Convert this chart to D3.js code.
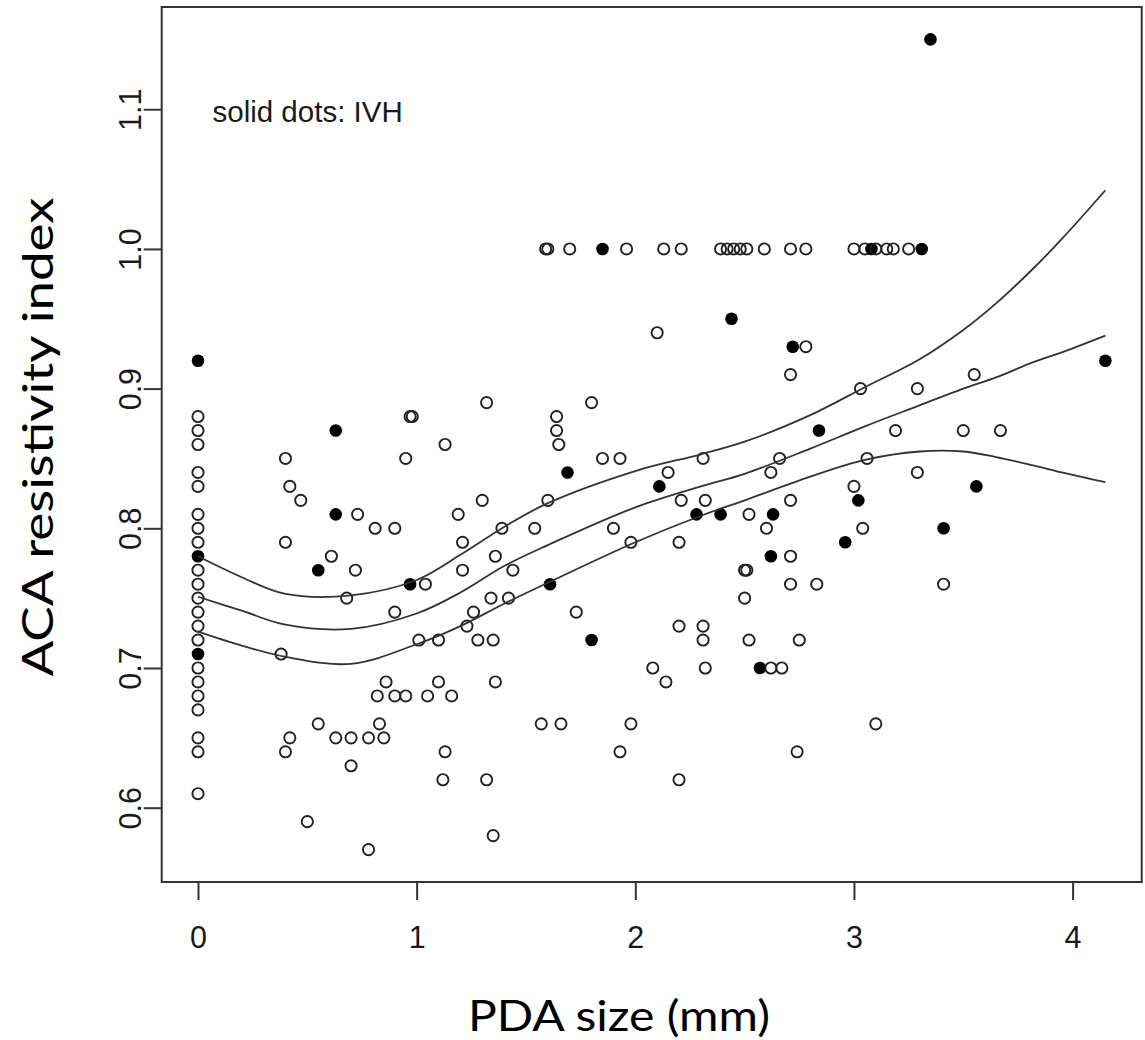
<!DOCTYPE html>
<html>
<head>
<meta charset="utf-8">
<script src="https://cdn.jsdelivr.net/npm/d3@7"></script>
<style>
  body { margin: 0; background: #fff; }
  svg { display: block; }
</style>
</head>
<body>
<div id="chart"></div>
<script>
// PDA size (mm), ACA resistivity index, IVH flag (1 = solid dot)
const pdaSize = [
  0, 0, 0, 0, 0, 0, 0, 0, 0, 0, 0, 0, 0, 0, 0, 0, 0, 0, 0, 0, 0, 0, 0, 0,
  0.38, 0.40, 0.40, 0.40, 0.42, 0.42, 0.47, 0.50, 0.55, 0.55,
  0.61, 0.63, 0.63, 0.63, 0.68, 0.70, 0.70, 0.72, 0.73, 0.78,
  0.78, 0.81, 0.82, 0.83, 0.85, 0.86, 0.90, 0.90, 0.90, 0.95,
  0.95, 0.97, 0.98, 0.97, 1.01, 1.04, 1.05, 1.10, 1.10, 1.12,
  1.13, 1.13, 1.16, 1.19, 1.21, 1.21, 1.23, 1.26, 1.28, 1.30,
  1.32, 1.32, 1.34, 1.35, 1.35, 1.36, 1.36, 1.39, 1.42, 1.44,
  1.54, 1.57, 1.59, 1.60, 1.60, 1.61, 1.64, 1.64, 1.65, 1.66,
  1.69, 1.70, 1.73, 1.80, 1.80, 1.85, 1.85, 1.90, 1.93, 1.93,
  1.96, 1.98, 1.98, 2.08, 2.10, 2.11, 2.13, 2.14, 2.15, 2.20,
  2.20, 2.20, 2.21, 2.21, 2.28, 2.31, 2.31, 2.31, 2.32, 2.32,
  2.39, 2.39, 2.42, 2.44, 2.45, 2.48, 2.50, 2.50, 2.51, 2.51,
  2.52, 2.52, 2.57, 2.59, 2.60, 2.62, 2.62, 2.62, 2.63, 2.66,
  2.67, 2.71, 2.71, 2.71, 2.71, 2.71, 2.72, 2.74, 2.75, 2.78,
  2.78, 2.83, 2.84, 2.96, 3.00, 3.00, 3.02, 3.03, 3.04, 3.05,
  3.06, 3.08, 3.10, 3.10, 3.15, 3.18, 3.19, 3.25, 3.29, 3.29,
  3.31, 3.35, 3.41, 3.41, 3.50, 3.55, 3.56, 3.67, 4.15
];
const resistIndex = [
  0.92, 0.88, 0.87, 0.86, 0.84, 0.83, 0.81, 0.80, 0.79, 0.78, 0.77, 0.76,
  0.75, 0.74, 0.73, 0.72, 0.71, 0.70, 0.69, 0.68, 0.67, 0.65, 0.64, 0.61,
  0.71, 0.85, 0.79, 0.64, 0.83, 0.65, 0.82, 0.59, 0.77, 0.66,
  0.78, 0.87, 0.81, 0.65, 0.75, 0.65, 0.63, 0.77, 0.81, 0.65,
  0.57, 0.80, 0.68, 0.66, 0.65, 0.69, 0.80, 0.74, 0.68, 0.85,
  0.68, 0.88, 0.88, 0.76, 0.72, 0.76, 0.68, 0.72, 0.69, 0.62,
  0.86, 0.64, 0.68, 0.81, 0.79, 0.77, 0.73, 0.74, 0.72, 0.82,
  0.89, 0.62, 0.75, 0.72, 0.58, 0.78, 0.69, 0.80, 0.75, 0.77,
  0.80, 0.66, 1.00, 1.00, 0.82, 0.76, 0.88, 0.87, 0.86, 0.66,
  0.84, 1.00, 0.74, 0.89, 0.72, 1.00, 0.85, 0.80, 0.85, 0.64,
  1.00, 0.79, 0.66, 0.70, 0.94, 0.83, 1.00, 0.69, 0.84, 0.79,
  0.73, 0.62, 1.00, 0.82, 0.81, 0.85, 0.72, 0.73, 0.82, 0.70,
  1.00, 0.81, 1.00, 0.95, 1.00, 1.00, 0.77, 0.75, 1.00, 0.77,
  0.81, 0.72, 0.70, 1.00, 0.80, 0.84, 0.78, 0.70, 0.81, 0.85,
  0.70, 1.00, 0.91, 0.82, 0.78, 0.76, 0.93, 0.64, 0.72, 1.00,
  0.93, 0.76, 0.87, 0.79, 1.00, 0.83, 0.82, 0.90, 0.80, 1.00,
  0.85, 1.00, 1.00, 0.66, 1.00, 1.00, 0.87, 1.00, 0.90, 0.84,
  1.00, 1.15, 0.80, 0.76, 0.87, 0.91, 0.83, 0.87, 0.92
];
const ivhFlag = [
  1, 0, 0, 0, 0, 0, 0, 0, 0, 1, 0, 0, 0, 0, 0, 0, 1, 0, 0, 0, 0, 0, 0, 0,
  0, 0, 0, 0, 0, 0, 0, 0, 1, 0,
  0, 1, 1, 0, 0, 0, 0, 0, 0, 0,
  0, 0, 0, 0, 0, 0, 0, 0, 0, 0,
  0, 0, 0, 1, 0, 0, 0, 0, 0, 0,
  0, 0, 0, 0, 0, 0, 0, 0, 0, 0,
  0, 0, 0, 0, 0, 0, 0, 0, 0, 0,
  0, 0, 0, 0, 0, 1, 0, 0, 0, 0,
  1, 0, 0, 0, 1, 1, 0, 0, 0, 0,
  0, 0, 0, 0, 0, 1, 0, 0, 0, 0,
  0, 0, 0, 0, 1, 0, 0, 0, 0, 0,
  0, 1, 0, 1, 0, 0, 0, 0, 0, 0,
  0, 0, 1, 0, 0, 0, 1, 0, 1, 0,
  0, 0, 0, 0, 0, 0, 1, 0, 0, 0,
  0, 0, 1, 1, 0, 0, 1, 0, 0, 0,
  0, 1, 0, 0, 0, 0, 0, 0, 0, 0,
  1, 1, 1, 0, 0, 0, 1, 0, 1
];

// fitted curve and its confidence band
const curveX = [0, 0.2, 0.4, 0.7, 1.0, 1.2, 1.4, 1.6, 2.0, 2.3, 2.5, 2.8, 3.05, 3.3, 3.5, 3.65, 3.82, 3.95, 4.15];
const fitY   = [0.751, 0.741, 0.731, 0.728, 0.739, 0.754, 0.773, 0.788, 0.815, 0.830, 0.839, 0.857, 0.873, 0.888, 0.900, 0.908, 0.919, 0.926, 0.938];
const upperY = [0.780, 0.765, 0.753, 0.752, 0.763, 0.781, 0.801, 0.818, 0.841, 0.853, 0.862, 0.881, 0.901, 0.921, 0.942, 0.961, 0.986, 1.007, 1.042];
const lowerY = [0.726, 0.716, 0.708, 0.703, 0.717, 0.730, 0.746, 0.761, 0.790, 0.809, 0.820, 0.837, 0.849, 0.855, 0.855, 0.851, 0.845, 0.840, 0.833];

const xTicks = [0, 1, 2, 3, 4];
const yTicks = [0.6, 0.7, 0.8, 0.9, 1.0, 1.1];

const width = 1145;
const height = 1040;
const box = { left: 161.7, right: 1141.7, top: 7, bottom: 882 };

const svg = d3.select('#chart').append('svg')
  .attr('width', width)
  .attr('height', height);

svg.append('rect').attr('width', width).attr('height', height).attr('fill', '#fff');

const xScale = d3.scaleLinear().domain([-0.166, 4.316]).range([box.left, box.right]);
const yScale = d3.scaleLinear().domain([0.5468, 1.1732]).range([box.bottom, box.top]);

const tickFont = '"Liberation Sans", Arial, sans-serif';

// x axis
const xAxis = svg.append('g')
  .attr('transform', `translate(0, ${box.bottom})`)
  .call(d3.axisBottom(xScale).tickValues(xTicks).tickFormat(d3.format('d')).tickSize(18).tickPadding(26));
xAxis.select('.domain').remove();
xAxis.selectAll('line').attr('stroke', '#333').attr('stroke-width', 2);
xAxis.selectAll('text')
  .attr('font-family', tickFont).attr('font-size', 30.5).attr('fill', '#1a1a1a');

// y axis, labels rotated like R's default
const yAxis = svg.append('g')
  .attr('transform', `translate(${box.left}, 0)`)
  .call(d3.axisLeft(yScale).tickValues(yTicks).tickFormat(d3.format('.1f')).tickSize(18));
yAxis.select('.domain').remove();
yAxis.selectAll('line').attr('stroke', '#333').attr('stroke-width', 2);
yAxis.selectAll('text')
  .attr('font-family', tickFont).attr('font-size', 30.5).attr('fill', '#1a1a1a')
  .attr('text-anchor', 'middle')
  .attr('x', 0).attr('y', -21).attr('dy', null)
  .attr('transform', 'rotate(-90)');

// points
const points = pdaSize.map((x, i) => ({ x: x, y: resistIndex[i], ivh: ivhFlag[i] }));
svg.append('g').selectAll('circle')
  .data(points)
  .enter()
  .append('circle')
  .attr('cx', d => xScale(d.x))
  .attr('cy', d => yScale(d.y))
  .attr('r', d => d.ivh ? 6.3 : 5.6)
  .attr('fill', d => d.ivh ? '#000' : 'none')
  .attr('stroke', d => d.ivh ? 'none' : '#222')
  .attr('stroke-width', 1.9);

// fit + confidence band
const makeLine = d3.line()
  .x(d => xScale(d[0]))
  .y(d => yScale(d[1]))
  .curve(d3.curveCatmullRom.alpha(0.5));

[fitY, upperY, lowerY].forEach(ys => {
  svg.append('path')
    .attr('d', makeLine(curveX.map((x, i) => [x, ys[i]])))
    .attr('fill', 'none')
    .attr('stroke', '#333')
    .attr('stroke-width', 1.8);
});

// plot frame
svg.append('rect')
  .attr('x', box.left).attr('y', box.top)
  .attr('width', box.right - box.left).attr('height', box.bottom - box.top)
  .attr('fill', 'none').attr('stroke', '#333').attr('stroke-width', 2);

svg.append('text')
  .attr('x', 212.5).attr('y', 121.5)
  .attr('font-family', tickFont).attr('font-size', 29.5).attr('fill', '#1a1a1a')
  .text('solid dots: IVH');

// axis titles
const titleFont = 'Lato, "Open Sans", sans-serif';
svg.append('text')
  .attr('x', 619).attr('y', 1031)
  .attr('text-anchor', 'middle')
  .attr('font-family', titleFont).attr('font-size', 42).attr('fill', '#000')
  .attr('textLength', 302).attr('lengthAdjust', 'spacingAndGlyphs')
  .text('PDA size (mm)');

svg.append('text')
  .attr('transform', 'translate(53, 437) rotate(-90)')
  .attr('text-anchor', 'middle')
  .attr('font-family', titleFont).attr('font-size', 42).attr('fill', '#000')
  .attr('textLength', 479).attr('lengthAdjust', 'spacingAndGlyphs')
  .text('ACA resistivity index');
</script>
</body>
</html>
